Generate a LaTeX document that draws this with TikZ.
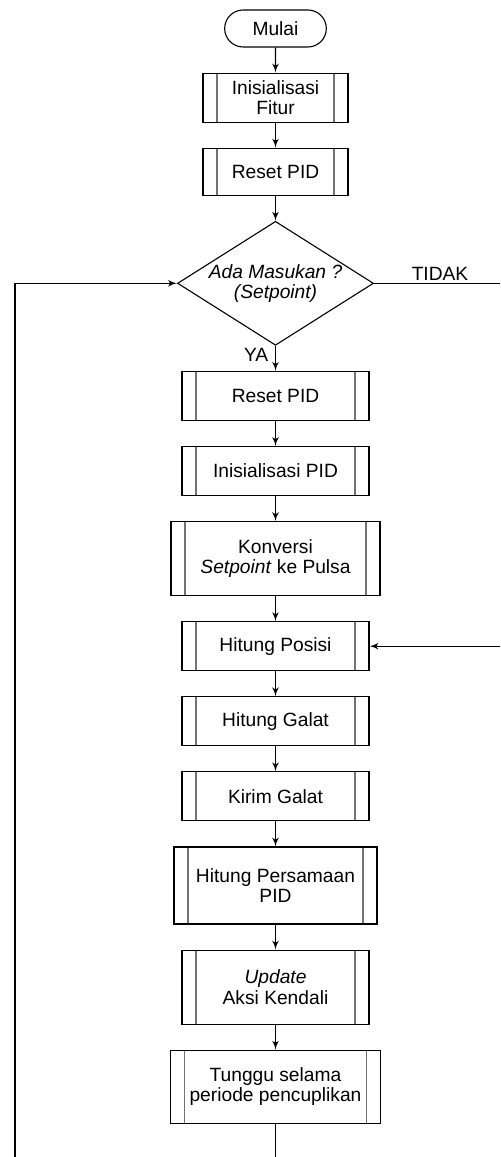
\documentclass[tikz,border=0pt]{standalone}
\usepackage{fontspec}
\setmainfont{Liberation Sans}
\usepackage{tikz}
\usetikzlibrary{shapes,arrows}
\usetikzlibrary{arrows,calc,positioning}
\tikzset{
    terminal/.style = {draw, rounded rectangle, minimum height=18.5pt, minimum width=57.5pt},
    subproc/.style = {draw, rectangle, align=center, inner sep=1pt, minimum height=24.5pt, minimum width=93.5pt, path picture={\draw[black!55, line width=0.8pt] ($(path picture bounding box.north west)+(7pt,0)$) -- ($(path picture bounding box.south west)+(7pt,0)$) ($(path picture bounding box.north east)+(-7pt,0)$) -- ($(path picture bounding box.south east)+(-7pt,0)$);}},
    decision/.style = {draw, diamond, aspect=1.58, align=center, inner sep=0pt, minimum width=98pt, minimum height=62pt},
}

\begin{document}
\begin{tikzpicture}[auto, node distance=12.5pt, >=latex', line width=0.55pt, font=\fontsize{9.6}{10.2}\selectfont]
    \path [use as bounding box, clip] (0,0) rectangle (250pt,-578.5pt);
    \node [terminal] (mulai) at (137.75pt,-14.25pt) {Mulai};
    \node [subproc, below=of mulai, minimum width=72.5pt] (fitur) {Inisialisasi\\Fitur};
    \node [subproc, below=of fitur, minimum width=72.5pt, minimum height=23.5pt] (resetawal) {Reset PID};
    \node [decision, below=of resetawal] (masukan) {\textit{Ada Masukan ?}\\\textit{(Setpoint)}};
    \node [subproc, below=of masukan] (reset) {Reset PID};
    \node [subproc, below=of reset] (initpid) {Inisialisasi PID};
    \node [subproc, below=of initpid, minimum width=104.5pt, minimum height=37pt] (konversi) {Konversi\\\textit{Setpoint} ke Pulsa};
    \node [subproc, below=of konversi] (posisi) {Hitung Posisi};
    \node [subproc, below=of posisi] (galat) {Hitung Galat};
    \node [subproc, below=of galat] (kirim) {Kirim Galat};
    \node [subproc, below=of kirim, minimum width=101.5pt, minimum height=38.5pt] (persamaan) {Hitung Persamaan\\PID};
    \node [subproc, below=of persamaan, minimum height=37pt] (update) {\textit{Update}\\Aksi Kendali};
    \node [subproc, below=of update, minimum width=105pt, minimum height=36.5pt] (tunggu) {Tunggu selama\\periode pencuplikan};
    \coordinate (kiri) at (7.5pt,-600pt);
    \coordinate (kanan) at (262pt,-200pt);
    \draw [->] (mulai) -- (fitur);
    \draw [->] (fitur) -- (resetawal);
    \draw [->] (resetawal) -- (masukan);
    \draw [->] (masukan) -- node [pos=0.35, swap] {YA} (reset);
    \draw [->] (reset) -- (initpid);
    \draw [->] (initpid) -- (konversi);
    \draw [->] (konversi) -- (posisi);
    \draw [->] (posisi) -- (galat);
    \draw [->] (galat) -- (kirim);
    \draw [->] (kirim) -- (persamaan);
    \draw [->] (persamaan) -- (update);
    \draw [->] (update) -- (tunggu);
    \draw [->] (masukan.east) -| node [pos=0.22, inner sep=1pt] {TIDAK} (kanan) |- (posisi.east);
    \draw [->] (tunggu.south) |- (kiri) |- (masukan.west);
\end{tikzpicture}
\end{document}
